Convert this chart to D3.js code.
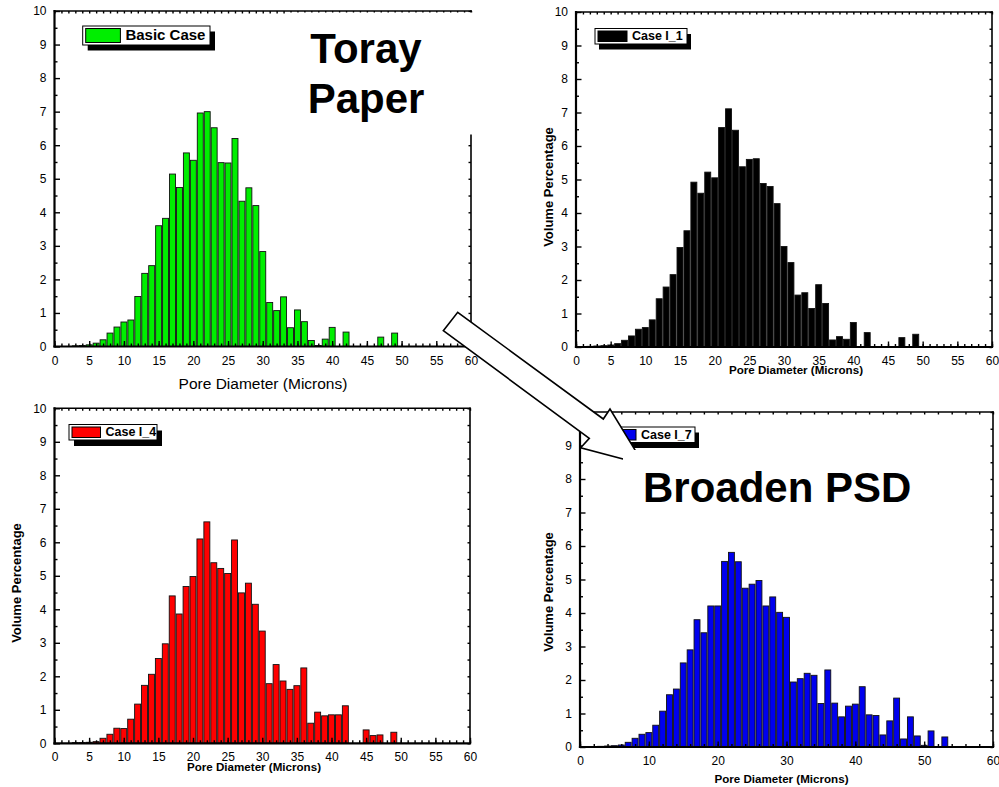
<!DOCTYPE html>
<html><head><meta charset="utf-8">
<script src="https://cdn.jsdelivr.net/npm/d3@7"></script>
<style>body{margin:0;background:#fff}svg{display:block}</style>
</head><body>
<svg id="c" width="999" height="787"></svg>
<script>
// ---------- data ----------
const diameters = [1,2,3,4,5,6,7,8,9,10,11,12,13,14,15,16,17,18,19,20,21,22,23,24,25,26,27,28,29,30,31,32,33,34,35,36,37,38,39,40,41,42,43,44,45,46,47,48,49,50,51,52,53,54,55];
const basicCase = [0,0,0.02,0.03,0.05,0.1,0.2,0.4,0.58,0.73,0.79,1.49,2.18,2.41,3.6,3.82,5.14,4.74,5.77,5.55,6.96,7.0,6.52,5.48,5.47,6.2,4.33,4.73,4.2,2.83,1.31,1.07,1.48,0.56,1.09,0.74,0.18,0.03,0.22,0.57,0,0.43,0,0,0,0,0.28,0,0.4,0,0,0,0,0,0];
const caseI1 = [0,0.02,0.03,0.04,0.06,0.1,0.2,0.33,0.53,0.58,0.81,1.44,1.79,2.16,2.97,3.47,4.92,4.59,5.22,5.05,6.55,7.11,6.47,5.38,5.6,5.62,4.88,4.79,4.28,3.0,2.52,1.55,1.62,1.15,1.86,1.3,0.21,0.31,0.23,0.73,0,0.43,0,0,0,0,0.28,0,0.38,0,0,0,0,0,0];
const caseI4 = [0,0,0.02,0.02,0.03,0.05,0.15,0.27,0.45,0.44,0.72,1.17,1.73,2.06,2.53,2.97,4.4,3.86,4.68,4.98,6.1,6.61,5.39,5.22,5.07,6.07,4.49,4.78,4.15,3.35,1.78,2.35,1.86,1.61,1.72,2.25,0.6,0.93,0.82,0.85,0.85,1.12,0,0,0.4,0.23,0.25,0,0.33,0,0,0,0,0,0];
const caseI7 = [0,0,0.02,0.03,0.04,0.06,0.14,0.26,0.38,0.43,0.65,1.07,1.56,1.73,2.51,2.9,3.8,3.41,4.21,4.21,5.54,5.81,5.53,4.74,4.86,4.97,4.21,4.48,4.02,3.87,1.94,2.04,2.2,2.14,1.3,2.3,1.31,0.9,1.22,1.28,1.8,0.96,0.94,0.36,0.78,1.46,0.24,0.9,0.33,0.05,0.48,0,0.3,0,0];
const xTicksFive = [0,5,10,15,20,25,30,35,40,45,50,55,60];
const xTicksTen = [0,10,20,30,40,50,60];
const yTicks = [0,1,2,3,4,5,6,7,8,9,10];
const legendLabels = ["Basic Case","Case I_1","Case I_4","Case I_7"];
const xTitleText = "Pore Diameter (Microns)";
const yTitleText = "Volume Percentage";
const noteTop = ["Toray","Paper"];
const noteBottom = "Broaden PSD";

// ---------- layout ----------
const FONT = "'Liberation Sans', Arial, Helvetica, sans-serif";
const svg = d3.select("#c");
svg.append("rect").attr("width",999).attr("height",787).attr("fill","#fff");

const panels = [
  {values:basicCase, color:"#00ee00", legend:legendLabels[0], x0:54.5, x1:471, y0:346.5, y1:11,
   xMajor:xTicksFive, xMinorStep:1, topMinorStep:1,
   xTitle:{x:263, y:388.5, size:15.5, weight:"normal"}, yTitle:null,
   lg:{x:82.7, y:26, w:127.3, h:19, sw:34.7, size:15, sx:5, sy:5.5}},
  {values:caseI1, color:"#000000", legend:legendLabels[1], x0:576, x1:992, y0:347, y1:12,
   xMajor:xTicksFive, xMinorStep:1, topMinorStep:1,
   xTitle:{x:796, y:374, size:11.6, weight:"bold"}, yTitle:{x:553, y:187},
   lg:{x:595, y:28.5, w:92, h:15.5, sw:29, size:12.5, sx:4, sy:5.5}},
  {values:caseI4, color:"#ff0000", legend:legendLabels[2], x0:54.5, x1:470, y0:743.3, y1:408.3,
   xMajor:xTicksFive, xMinorStep:1, topMinorStep:1,
   xTitle:{x:254, y:771, size:11.6, weight:"bold"}, yTitle:{x:20.5, y:583},
   lg:{x:69, y:424.5, w:88, h:15.5, sw:28.5, size:12.5, sx:5, sy:6}},
  {values:caseI7, color:"#0000ee", legend:legendLabels[3], x0:580, x1:993, y0:747, y1:412,
   xMajor:xTicksTen, xMinorStep:2, topMinorStep:2,
   xTitle:{x:781.5, y:783, size:11.6, weight:"bold"}, yTitle:{x:553, y:592},
   lg:{x:605, y:427, w:90, h:15.5, sw:28, size:12.5, sx:4, sy:5.5}}
];

panels.forEach(p => {
  const g = svg.append("g");
  const x = d3.scaleLinear().domain([0,60]).range([p.x0,p.x1]);
  const y = d3.scaleLinear().domain([0,10]).range([p.y0,p.y1]);
  const data = diameters.map((d,i)=>({d, v:p.values[i]})).filter(o=>o.v>0);

  // bars
  g.selectAll("rect.bar").data(data).enter().append("rect")
    .attr("class","bar")
    .attr("x", o => x(o.d-0.43))
    .attr("width", o => x(o.d+0.43)-x(o.d-0.43))
    .attr("y", o => y(o.v))
    .attr("height", o => y(0)-y(o.v))
    .attr("fill", p.color)
    .attr("stroke", "#111")
    .attr("stroke-width", 0.9);

  const styleAxis = sel => {
    sel.attr("font-family", FONT).attr("font-size", 12);
    sel.select(".domain").remove();
    sel.selectAll("line").attr("stroke","#000").attr("stroke-width",1.4);
    sel.selectAll("text").attr("fill","#000");
  };

  // bottom axis (major with labels, minor ticks)
  const xMinor = d3.range(0, 60.001, p.xMinorStep);
  g.append("g").attr("transform",`translate(0,${p.y0})`)
    .call(d3.axisBottom(x).tickValues(xMinor).tickSize(-3).tickFormat(""))
    .call(styleAxis);
  g.append("g").attr("transform",`translate(0,${p.y0})`)
    .call(d3.axisBottom(x).tickValues(p.xMajor).tickSize(-5.5).tickPadding(9.5).tickFormat(d3.format("d")))
    .call(styleAxis);
  // top axis
  g.append("g").attr("transform",`translate(0,${p.y1})`)
    .call(d3.axisTop(x).tickValues(d3.range(0,60.001,p.topMinorStep)).tickSize(-2.5).tickFormat(""))
    .call(styleAxis);
  // left axis
  g.append("g").attr("transform",`translate(${p.x0},0)`)
    .call(d3.axisLeft(y).tickValues(d3.range(0.5,10,1)).tickSize(-3).tickFormat(""))
    .call(styleAxis);
  g.append("g").attr("transform",`translate(${p.x0},0)`)
    .call(d3.axisLeft(y).tickValues(yTicks).tickSize(-5.5).tickPadding(8).tickFormat(d3.format("d")))
    .call(styleAxis);
  // right axis
  g.append("g").attr("transform",`translate(${p.x1},0)`)
    .call(d3.axisRight(y).tickValues(d3.range(0,10.001,0.5)).tickSize(-2.5).tickFormat(""))
    .call(styleAxis);

  // frame
  const line = (x1,y1,x2,y2,w) => g.append("line").attr("x1",x1).attr("y1",y1).attr("x2",x2).attr("y2",y2)
      .attr("stroke","#000").attr("stroke-width",w).attr("stroke-linecap","square");
  line(p.x0,p.y1,p.x1,p.y1,1.6);
  line(p.x1,p.y1,p.x1,p.y0,1.6);
  line(p.x0,p.y0,p.x1,p.y0,2.2);
  line(p.x0,p.y1,p.x0,p.y0,2.2);

  // titles
  g.append("text").attr("x",p.xTitle.x).attr("y",p.xTitle.y)
    .attr("text-anchor","middle").attr("font-family",FONT)
    .attr("font-size",p.xTitle.size).attr("font-weight",p.xTitle.weight)
    .text(xTitleText);
  if (p.yTitle) {
    g.append("text").attr("transform",`translate(${p.yTitle.x},${p.yTitle.y}) rotate(-90)`)
      .attr("text-anchor","middle").attr("font-family",FONT)
      .attr("font-size",13).attr("font-weight","bold")
      .text(yTitleText);
  }

  // legend
  const L = p.lg;
  g.append("rect").attr("x",L.x+L.sx).attr("y",L.y+L.sy).attr("width",L.w).attr("height",L.h).attr("fill","#000");
  g.append("rect").attr("x",L.x).attr("y",L.y).attr("width",L.w).attr("height",L.h)
    .attr("fill","#fff").attr("stroke","#000").attr("stroke-width",1);
  g.append("rect").attr("x",L.x+3).attr("y",L.y+2.5).attr("width",L.sw).attr("height",L.h-5)
    .attr("fill",p.color).attr("stroke","#000").attr("stroke-width",1);
  g.append("text").attr("x",L.x+L.sw+8).attr("y",L.y+L.h/2).attr("dy","0.3em")
    .attr("font-family",FONT).attr("font-size",L.size).attr("font-weight","bold")
    .text(p.legend);
});

// ---------- annotations ----------
svg.append("rect").attr("x",287).attr("y",12.5).attr("width",190).attr("height",122).attr("fill","#fff");
noteTop.forEach((t,i) => {
  svg.append("text").attr("x",366).attr("y",63.3 + i*50).attr("text-anchor","middle")
    .attr("font-family",FONT).attr("font-size",42).attr("font-weight","bold").text(t);
});

// hollow arrow
const arrowPts = [[443.3,330.7],[457.7,312.3],[603.3,419],[610,409],[643.8,464.4],[580.7,447.7],[589.3,438.3]];
svg.append("path").attr("d", d3.line()(arrowPts) + "Z")
  .attr("fill","#fff").attr("stroke","#000").attr("stroke-width",1.6).attr("stroke-linejoin","miter");

svg.append("rect").attr("x",623).attr("y",450).attr("width",305).attr("height",62).attr("fill","#fff");
svg.append("text").attr("x",643).attr("y",502).attr("font-family",FONT)
  .attr("font-size",42).attr("font-weight","bold").text(noteBottom);
</script>
</body></html>
